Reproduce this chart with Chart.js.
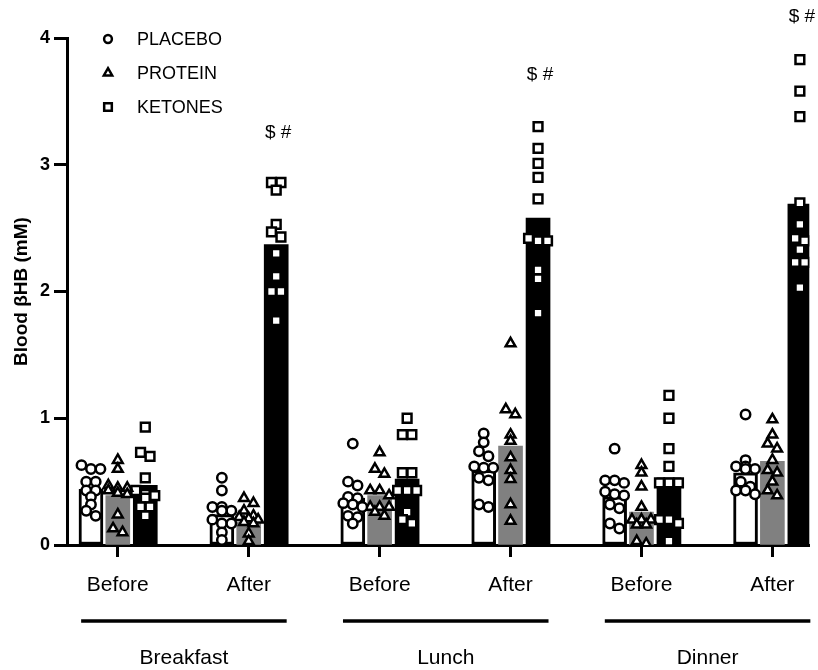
<!DOCTYPE html>
<html>
<head>
<meta charset="utf-8">
<script src="https://cdn.jsdelivr.net/npm/chart.js@4/dist/chart.umd.min.js"></script>
<style>
  html, body { margin: 0; padding: 0; background: #fff; }
</style>
</head>
<body>
<canvas id="chart" width="818" height="670"></canvas>
<script>
// categories
const timeLabels = ['Before', 'After', 'Before', 'After', 'Before', 'After'];
const mealLabels = ['Breakfast', 'Lunch', 'Dinner'];
const seriesNames = ['PLACEBO', 'PROTEIN', 'KETONES'];
const yTickValues = [0, 1, 2, 3, 4];

// bar heights (group means)
const placeboMeans = [0.44, 0.24, 0.37, 0.59, 0.38, 0.57];
const proteinMeans = [0.39, 0.18, 0.39, 0.78, 0.26, 0.66];
const ketonesMeans = [0.47, 2.37, 0.52, 2.58, 0.53, 2.69];

// individual subjects, one list per time point
const placeboPoints = [
  [0.63, 0.60, 0.60, 0.50, 0.50, 0.43, 0.43, 0.38, 0.32, 0.27, 0.23],
  [0.53, 0.43, 0.30, 0.30, 0.27, 0.27, 0.20, 0.17, 0.17, 0.10, 0.04],
  [0.80, 0.50, 0.47, 0.38, 0.37, 0.33, 0.32, 0.30, 0.23, 0.22, 0.17],
  [0.88, 0.81, 0.74, 0.70, 0.62, 0.61, 0.61, 0.53, 0.51, 0.32, 0.30],
  [0.76, 0.51, 0.51, 0.49, 0.42, 0.40, 0.39, 0.32, 0.29, 0.17, 0.13],
  [1.03, 0.67, 0.62, 0.62, 0.60, 0.60, 0.50, 0.46, 0.43, 0.43, 0.40]
];
const proteinPoints = [
  [0.67, 0.60, 0.47, 0.45, 0.45, 0.43, 0.41, 0.40, 0.24, 0.13, 0.10],
  [0.37, 0.33, 0.27, 0.23, 0.22, 0.21, 0.20, 0.18, 0.17, 0.09, 0.03],
  [0.73, 0.60, 0.56, 0.43, 0.43, 0.39, 0.30, 0.30, 0.30, 0.26, 0.23],
  [1.59, 1.07, 1.03, 0.87, 0.82, 0.69, 0.59, 0.52, 0.32, 0.19],
  [0.63, 0.57, 0.46, 0.30, 0.20, 0.20, 0.20, 0.16, 0.16, 0.03, 0.01],
  [0.99, 0.87, 0.80, 0.76, 0.67, 0.59, 0.57, 0.50, 0.43, 0.39]
];
const ketonesPoints = [
  [0.93, 0.73, 0.70, 0.53, 0.43, 0.40, 0.39, 0.37, 0.30, 0.30, 0.23],
  [2.86, 2.86, 2.80, 2.53, 2.47, 2.43, 2.30, 2.12, 2.00, 2.00, 1.77],
  [1.00, 0.87, 0.87, 0.57, 0.57, 0.43, 0.43, 0.43, 0.26, 0.20, 0.17],
  [3.30, 3.13, 3.01, 2.90, 2.73, 2.42, 2.40, 2.40, 2.17, 2.10, 1.83],
  [1.18, 1.00, 0.76, 0.62, 0.49, 0.49, 0.49, 0.20, 0.20, 0.17, 0.03],
  [3.83, 3.58, 3.38, 2.70, 2.53, 2.42, 2.40, 2.33, 2.23, 2.23, 2.03]
];

// significance marks ($ vs placebo, # vs protein) above the ketone bars
const sigGroups = [1, 3, 5];
const sigLevels = [3.25, 3.71, 4.17];
const sigText = '$ #';

const FONT = '"Liberation Sans", Arial, Helvetica, sans-serif';
const barOffsets = [-0.205, 0, 0.21];
const styles = [
  { fill: '#ffffff', border: 3, point: 'circle', radius: 4.7 },
  { fill: '#808080', border: 0, point: 'triangle', radius: 5.6 },
  { fill: '#000000', border: 0, point: 'rect', radius: 6.2 }
];

// column scatter: points closer than ROW_PX vertically share a row (max 3), rows are centred
const PX_X = 131.4, PX_Y = 126.75, STEP = 9.5, ROW_PX = 6;
function swarm(values, cx) {
  const rows = [];
  values.slice().sort((a, b) => b - a).forEach(v => {
    const row = rows[rows.length - 1];
    if (row && row.length < 3 && (row[0] - v) * PX_Y < ROW_PX) row.push(v);
    else rows.push([v]);
  });
  const out = [];
  rows.forEach(row => {
    row.forEach((v, i) => {
      out.push({ x: cx + (i - (row.length - 1) / 2) * STEP / PX_X, y: v });
    });
  });
  return out;
}

const means = [placeboMeans, proteinMeans, ketonesMeans];
const points = [placeboPoints, proteinPoints, ketonesPoints];

const datasets = [];
means.forEach((m, t) => {
  datasets.push({
    type: 'bar',
    label: seriesNames[t],
    data: m.map((v, g) => ({ x: g + barOffsets[t], y: v })),
    backgroundColor: styles[t].fill,
    borderColor: '#000',
    borderWidth: styles[t].border,
    borderSkipped: false,
    barThickness: 24,
    grouped: false,
    order: 2
  });
});
points.forEach((groups, t) => {
  let pts = [];
  groups.forEach((vals, g) => { pts = pts.concat(swarm(vals, g + barOffsets[t])); });
  datasets.push({
    type: 'scatter',
    label: seriesNames[t] + ' subjects',
    data: pts,
    pointStyle: styles[t].point,
    pointRadius: styles[t].radius,
    pointBorderWidth: 2.5,
    pointBackgroundColor: '#fff',
    pointBorderColor: '#000',
    showLine: false,
    order: 1
  });
});

function marker(ctx, style, radius, x, y) {
  ctx.save();
  ctx.fillStyle = '#fff';
  ctx.strokeStyle = '#000';
  ctx.lineWidth = 2.5;
  Chart.helpers.drawPoint(ctx, { pointStyle: style, radius: radius, rotation: 0, borderWidth: 2.5 }, x, y);
  ctx.restore();
}

const extras = {
  id: 'extras',
  afterDraw(chart) {
    const ctx = chart.ctx;
    const xs = chart.scales.x, ys = chart.scales.y;
    ctx.save();
    ctx.fillStyle = '#000';
    ctx.strokeStyle = '#000';

    // legend
    ctx.font = '18px ' + FONT;
    ctx.textAlign = 'left';
    ctx.textBaseline = 'middle';
    seriesNames.forEach((name, i) => {
      const y = 39 + i * 34;
      marker(ctx, styles[i].point, styles[i].radius - 0.8, 108, y);
      ctx.fillText(name, 137, y + 1);
    });

    // significance
    ctx.font = '19px ' + FONT;
    ctx.textAlign = 'center';
    sigGroups.forEach((g, i) => {
      ctx.fillText(sigText, xs.getPixelForValue(g + barOffsets[2]) + 2, ys.getPixelForValue(sigLevels[i]));
    });

    // meal brackets
    ctx.lineWidth = 3.5;
    ctx.font = '21px ' + FONT;
    mealLabels.forEach((name, m) => {
      const x1 = xs.getPixelForValue(2 * m - 0.28);
      const x2 = xs.getPixelForValue(2 * m + 1.29);
      ctx.beginPath();
      ctx.moveTo(x1, 621);
      ctx.lineTo(x2, 621);
      ctx.stroke();
      ctx.fillText(name, (x1 + x2) / 2, 658);
    });
    ctx.restore();
  }
};

new Chart(document.getElementById('chart'), {
  type: 'bar',
  data: { datasets: datasets },
  options: {
    responsive: false,
    animation: false,
    devicePixelRatio: 1,
    layout: { padding: { top: 38, right: 6, bottom: 0, left: 0 } },
    plugins: {
      legend: { display: false },
      tooltip: { enabled: false }
    },
    scales: {
      x: {
        type: 'linear',
        min: -0.388,
        max: 5.282,
        offset: false,
        ticks: {
          stepSize: 1,
          includeBounds: false,
          autoSkip: false,
          maxRotation: 0,
          padding: 16,
          color: '#000',
          font: { family: FONT, size: 21 },
          callback: v => Number.isInteger(v) ? timeLabels[v] : ''
        },
        grid: {
          offset: false,
          drawOnChartArea: false,
          drawTicks: true,
          tickLength: 12,
          tickWidth: 3,
          tickColor: '#000'
        },
        border: { display: true, color: '#000', width: 3 },
        afterFit: s => { s.height = 125; }
      },
      y: {
        min: 0,
        max: 4,
        afterBuildTicks: s => { s.ticks = yTickValues.map(v => ({ value: v })); },
        ticks: {
          padding: 4,
          color: '#000',
          font: { family: FONT, size: 18, weight: 'bold' }
        },
        grid: {
          drawOnChartArea: false,
          drawTicks: true,
          tickLength: 13,
          tickWidth: 3,
          tickColor: '#000'
        },
        border: { display: true, color: '#000', width: 3 },
        title: {
          display: true,
          text: 'Blood βHB (mM)',
          color: '#000',
          font: { family: FONT, size: 19, weight: 'bold' },
          padding: { top: 10, bottom: 0 }
        },
        afterFit: s => { s.width = 67; }
      }
    }
  },
  plugins: [extras]
});
</script>
</body>
</html>
